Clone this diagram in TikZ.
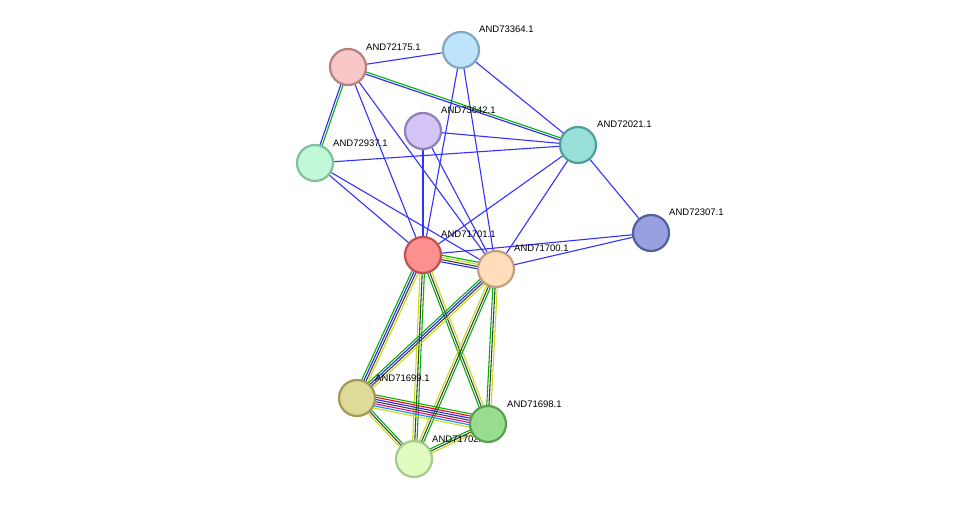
\documentclass[tikz,border=0pt]{standalone}
\usepackage{fontspec}
\setmainfont{Liberation Sans}
\usetikzlibrary{calc}
\begin{document}
\begin{tikzpicture}[x=1pt,y=-1pt,
  prot/.style={circle,minimum size=36pt,inner sep=0pt,line width=2.2pt},
  lab/.style={font=\fontsize{9.5}{11}\selectfont,anchor=south west,inner sep=1pt},
  bl/.style={draw=blue!80!white,line width=1.1pt}]
\useasboundingbox[fill=white] (0,0) rectangle (975,505);
\coordinate (p72175) at (348,67);
\coordinate (p73364) at (461,50);
\coordinate (p73642) at (423,131);
\coordinate (p72021) at (578,145);
\coordinate (p72937) at (315,163);
\coordinate (p72307) at (651,233);
\coordinate (p71701) at (423,255);
\coordinate (p71700) at (496,269);
\coordinate (p71699) at (357,398);
\coordinate (p71698) at (488,424);
\coordinate (p71702) at (414,459);
\colorlet{cB}{blue!85!white}\colorlet{cG}{green!70!black}\colorlet{cK}{black!75}
\colorlet{cY}{yellow!75!green}\colorlet{cC}{cyan!80!blue}\colorlet{cM}{magenta}\colorlet{cR}{red}
\newcommand{\medge}[4]{% a, b, n, colour list
  \foreach \c [count=\i] in {#4}{
    \pgfmathsetmacro{\off}{(\i-(#3+1)/2)*2.2}
    \draw[\c,line width=1.1pt] ($(#1)!\off pt!90:(#2)$) -- ($(#2)!\off pt!-90:(#1)$);
  }}
\foreach \a/\b in {p72175/p73364,p72175/p71701,p72175/p71700,p73364/p72021,p73364/p71701,p73364/p71700,
  p73642/p72021,p73642/p71701,p73642/p71700,p72937/p72021,p72937/p71701,p72937/p71700,p72021/p71701,
  p72021/p71700,p72021/p72307,p72307/p71701,p72307/p71700}
  \draw[bl] (\a) -- (\b);
\medge{p72175}{p72021}{2}{cB,cG}
\medge{p72175}{p72937}{2}{cB,cG}
\medge{p71701}{p71700}{4}{cB,cK,cY,cG}
\medge{p71701}{p71699}{4}{cG,cB,cK,cY}
\medge{p71701}{p71702}{3}{cY,cK,cG}
\medge{p71701}{p71698}{3}{cG,cK,cY}
\medge{p71700}{p71699}{4}{cG,cB,cK,cY}
\medge{p71700}{p71702}{3}{cY,cK,cG}
\medge{p71700}{p71698}{3}{cG,cK,cY}
\medge{p71699}{p71698}{7}{cY,cC,cM,cK,cB,cR,cG}
\medge{p71699}{p71702}{3}{cY,cK,cG}
\medge{p71702}{p71698}{3}{cY,cK,cG}
\node[prot,fill={rgb,255:red,248;green,200;blue,200},draw={rgb,255:red,184;green,128;blue,128}] (n72175) at (p72175) {};
\node[prot,fill={rgb,255:red,189;green,228;blue,250},draw={rgb,255:red,128;green,168;blue,192}] (n73364) at (p73364) {};
\node[prot,fill={rgb,255:red,212;green,196;blue,248},draw={rgb,255:red,144;green,128;blue,184}] (n73642) at (p73642) {};
\node[prot,fill={rgb,255:red,152;green,224;blue,216},draw={rgb,255:red,80;green,160;blue,152}] (n72021) at (p72021) {};
\node[prot,fill={rgb,255:red,192;green,248;blue,216},draw={rgb,255:red,128;green,192;blue,160}] (n72937) at (p72937) {};
\node[prot,fill={rgb,255:red,152;green,160;blue,224},draw={rgb,255:red,80;green,96;blue,160}] (n72307) at (p72307) {};
\node[prot,fill={rgb,255:red,255;green,144;blue,144},draw={rgb,255:red,192;green,80;blue,80}] (n71701) at (p71701) {};
\node[prot,fill={rgb,255:red,255;green,221;blue,187},draw={rgb,255:red,192;green,160;blue,128}] (n71700) at (p71700) {};
\node[prot,fill={rgb,255:red,222;green,218;blue,152},draw={rgb,255:red,160;green,154;blue,88}] (n71699) at (p71699) {};
\node[prot,fill={rgb,255:red,224;green,252;blue,192},draw={rgb,255:red,168;green,200;blue,144}] (n71702) at (p71702) {};
\node[lab] (l72175) at (365,52) {AND72175.1};
\node[lab] (l73364) at (478,34) {AND73364.1};
\node[lab] (l73642) at (440,115) {AND73642.1};
\node[lab] (l72021) at (596,129) {AND72021.1};
\node[lab] (l72937) at (332,148) {AND72937.1};
\node[lab] (l72307) at (668,217) {AND72307.1};
\node[lab] (l71701) at (440,239) {AND71701.1};
\node[lab] (l71700) at (513,253) {AND71700.1};
\node[lab] (l71699) at (374,383) {AND71699.1};
\node[lab] (l71698) at (506,409) {AND71698.1};
\node[lab] (l71702) at (431,444) {AND71702.1};
\node[prot,fill={rgb,255:red,152;green,220;blue,144},draw={rgb,255:red,88;green,160;blue,80}] (n71698) at (p71698) {};
\end{tikzpicture}
\end{document}
